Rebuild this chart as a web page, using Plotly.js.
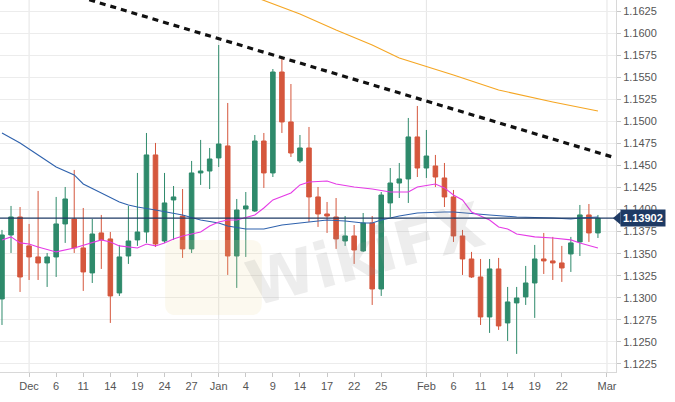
<!DOCTYPE html>
<html>
<head>
<meta charset="utf-8">
<script src="https://cdn.plot.ly/plotly-3.0.1.min.js"></script>
<style>html,body{margin:0;padding:0;background:#fff;}#chart{width:675px;height:402px;}</style>
</head>
<body>
<div id="chart"></div>
<script>
// Trading days shown on the axis (weekends removed)
const days = ['2018-11-28','2018-11-29','2018-11-30',
 '2018-12-03','2018-12-04','2018-12-05','2018-12-06','2018-12-07','2018-12-10','2018-12-11','2018-12-12','2018-12-13','2018-12-14',
 '2018-12-17','2018-12-18','2018-12-19','2018-12-20','2018-12-21','2018-12-24','2018-12-25','2018-12-26','2018-12-27','2018-12-28','2018-12-31',
 '2019-01-01','2019-01-02','2019-01-03','2019-01-04','2019-01-07','2019-01-08','2019-01-09','2019-01-10','2019-01-11',
 '2019-01-14','2019-01-15','2019-01-16','2019-01-17','2019-01-18','2019-01-21','2019-01-22','2019-01-23','2019-01-24','2019-01-25',
 '2019-01-28','2019-01-29','2019-01-30','2019-01-31','2019-02-01','2019-02-04','2019-02-05','2019-02-06','2019-02-07','2019-02-08',
 '2019-02-11','2019-02-12','2019-02-13','2019-02-14','2019-02-15','2019-02-18','2019-02-19','2019-02-20','2019-02-21','2019-02-22',
 '2019-02-25','2019-02-26','2019-02-27','2019-02-28','2019-03-01','2019-03-04'];

// Daily candles Nov 28 - Feb 28
const candleDates = days.slice(0, 67);
const open  = [1.12987,1.13712,1.13916,1.13588,1.13463,1.13395,1.13463,1.13837,1.13893,1.13565,1.13282,1.13735,1.13667,
 1.13055,1.13474,1.13656,1.13746,1.14619,1.13644,1.14109,1.13927,1.13554,1.14415,1.14437,
 1.14585,1.14721,1.13474,1.14007,1.13984,1.14777,1.14415,1.15559,1.14993,
 1.14551,1.14698,1.14143,1.13950,1.13916,1.13644,1.13701,1.13531,1.13848,1.13100,
 1.14075,1.14301,1.14347,1.14823,1.14471,1.14494,1.14358,1.14143,1.13701,1.13440,
 1.13236,1.12783,1.13327,1.12715,1.12942,1.13010,1.13168,1.13440,1.13418,1.13395,
 1.13497,1.13633,1.13939,1.13735];
const high  = [1.13769,1.14041,1.14029,1.13837,1.14211,1.13508,1.14143,1.14256,1.14449,1.14018,1.13893,1.13939,1.13746,
 1.13599,1.14041,1.14415,1.14868,1.14755,1.14415,1.14267,1.14233,1.14551,1.14789,1.14698,
 1.15865,1.15208,1.14120,1.14199,1.14845,1.14868,1.15593,1.15729,1.15423,
 1.14845,1.14936,1.14256,1.14086,1.14131,1.13927,1.13825,1.13961,1.13927,1.14199,
 1.14471,1.14528,1.15038,1.15174,1.14902,1.14619,1.14528,1.14222,1.13769,1.13520,
 1.13440,1.13440,1.13452,1.13123,1.13123,1.13361,1.13599,1.13735,1.13690,1.13588,
 1.13690,1.14052,1.14063,1.13939];
const low   = [1.12692,1.13508,1.13066,1.13202,1.13202,1.13123,1.13236,1.13622,1.13508,1.13078,1.13168,1.13327,1.12715,
 1.13021,1.13384,1.13588,1.13622,1.13576,1.13622,1.13656,1.13452,1.13508,1.14279,1.14233,
 1.14483,1.13259,1.13112,1.13463,1.13973,1.14245,1.14369,1.14868,1.14596,
 1.14528,1.13859,1.13803,1.13735,1.13554,1.13588,1.13384,1.13520,1.12919,1.13021,
 1.13916,1.14131,1.14075,1.14369,1.14358,1.14256,1.14029,1.13633,1.13259,1.13225,
 1.12692,1.12602,1.12636,1.12511,1.12364,1.12919,1.12772,1.13270,1.13202,1.13180,
 1.13293,1.13474,1.13633,1.13678];
const close = [1.13712,1.13916,1.13236,1.13463,1.13395,1.13463,1.13837,1.14120,1.13565,1.13293,1.13723,1.13656,1.13021,
 1.13463,1.13644,1.13746,1.14619,1.13610,1.14075,1.14143,1.13554,1.14415,1.14437,1.14573,
 1.14743,1.13474,1.13995,1.14041,1.14777,1.14415,1.15559,1.14993,1.14641,
 1.14698,1.14143,1.13950,1.13927,1.13667,1.13701,1.13542,1.13848,1.13100,1.14165,
 1.14301,1.14347,1.14823,1.14471,1.14607,1.14369,1.14143,1.13701,1.13440,1.13236,
 1.12783,1.13327,1.12681,1.12953,1.12998,1.13168,1.13440,1.13418,1.13395,1.13338,
 1.13622,1.13939,1.13735,1.13902];

// Moving averages
const maPinkDates = ['2018-11-28','2018-11-29','2018-11-30','2018-12-03','2018-12-04','2018-12-06','2018-12-10','2018-12-12','2018-12-13','2018-12-14',
 '2018-12-17','2018-12-19','2018-12-20','2018-12-21','2018-12-24','2018-12-25','2018-12-26','2018-12-28','2018-12-31','2019-01-01',
 '2019-01-02','2019-01-03','2019-01-07','2019-01-08','2019-01-09','2019-01-11','2019-01-14','2019-01-15','2019-01-17','2019-01-18',
 '2019-01-22','2019-01-24','2019-01-28','2019-01-30','2019-01-31','2019-02-04','2019-02-05','2019-02-06','2019-02-07','2019-02-08',
 '2019-02-12','2019-02-13','2019-02-14','2019-02-15','2019-02-19','2019-02-21','2019-02-25','2019-02-26','2019-02-28'];
const maPinkValues = [1.13656,1.13690,1.13622,1.13610,1.13576,1.13520,1.13565,1.13622,1.13656,1.13633,
 1.13588,1.13565,1.13610,1.13588,1.13622,1.13667,1.13701,1.13746,1.13814,1.13859,
 1.13882,1.13882,1.13939,1.14018,1.14109,1.14188,1.14279,1.14313,1.14324,1.14290,
 1.14256,1.14233,1.14199,1.14199,1.14256,1.14290,1.14245,1.14165,1.14109,1.13973,
 1.13882,1.13803,1.13780,1.13723,1.13690,1.13678,1.13656,1.13622,1.13565];

const maBlueDates = ['2018-11-28','2018-11-30','2018-12-04','2018-12-06','2018-12-10','2018-12-11','2018-12-13','2018-12-17','2018-12-18','2018-12-19',
 '2018-12-21','2018-12-26','2018-12-28','2019-01-01','2019-01-02','2019-01-04','2019-01-08','2019-01-10','2019-01-14','2019-01-17',
 '2019-01-21','2019-01-23','2019-01-24','2019-01-25','2019-01-29','2019-01-31','2019-02-05','2019-02-06','2019-02-12','2019-02-15',
 '2019-02-21','2019-02-25','2019-02-26','2019-02-28'];
const maBlueValues = [1.14868,1.14755,1.14619,1.14483,1.14392,1.14290,1.14188,1.14086,1.14052,1.14029,
 1.13995,1.13939,1.13882,1.13848,1.13814,1.13780,1.13780,1.13825,1.13848,1.13882,
 1.13871,1.13848,1.13848,1.13882,1.13927,1.13961,1.13973,1.13973,1.13939,1.13916,
 1.13905,1.13893,1.13905,1.13916];

const maOrangeDates = ['2019-01-03','2019-01-07','2019-01-14','2019-01-18','2019-01-24','2019-01-29','2019-02-06','2019-02-13','2019-02-21','2019-02-28'];
const maOrangeValues = [1.16500,1.16409,1.16216,1.16035,1.15865,1.15718,1.15525,1.15355,1.15219,1.15117];

// Descending trend line
const trendDates = ['2018-12-05','2019-03-04'];
const trendValues = [1.16521,1.14584];

// X tick labels
const tickDates = ['2018-12-03','2018-12-06','2018-12-11','2018-12-14','2018-12-19','2018-12-24','2018-12-27','2019-01-01','2019-01-04','2019-01-09',
 '2019-01-14','2019-01-17','2019-01-22','2019-01-25','2019-02-01','2019-02-06','2019-02-11','2019-02-14','2019-02-19','2019-02-22','2019-03-01'];
const tickLabels = ['Dec','6','11','14','19','24','27','Jan','4','9','14','17','22','25','Feb','6','11','14','19','22','Mar'];
const monthStarts = ['2018-12-03','2019-01-01','2019-02-01','2019-03-01'];

const ix = d => days.indexOf(d);
const lastClose = close[close.length-1];

const traces = [
 {type:'scatter', mode:'lines', x:maOrangeDates.map(ix), y:maOrangeValues, line:{color:'#f5a623', width:1.1}, hoverinfo:'skip'},
 {type:'scatter', mode:'lines', x:maBlueDates.map(ix), y:maBlueValues, line:{color:'#2f62ad', width:1.1}, hoverinfo:'skip'},
 {type:'scatter', mode:'lines', x:maPinkDates.map(ix), y:maPinkValues, line:{color:'#e53be6', width:1.1}, hoverinfo:'skip'},
 {type:'candlestick', x:candleDates.map(ix), open:open, high:high, low:low, close:close,
  increasing:{line:{color:'#2e8a6b', width:1}, fillcolor:'#2e8a6b'},
  decreasing:{line:{color:'#d5573d', width:1}, fillcolor:'#d5573d'},
  whiskerwidth:0, hoverinfo:'skip'},
 {type:'scatter', mode:'lines', x:trendDates.map(ix), y:trendValues, line:{color:'#111', width:3.2, dash:'6px,5px'}, hoverinfo:'skip'}
];

// faint watermark logo (rounded square), paper coords
const wx0 = 0.268, wx1 = 0.425, wyt = 0.355, wyb = 0.153, rx = 0.018, ry = 0.03;
const logoPath = `M ${wx0+rx},${wyt} L ${wx1-rx},${wyt} Q ${wx1},${wyt} ${wx1},${wyt-ry} L ${wx1},${wyb+ry} Q ${wx1},${wyb} ${wx1-rx},${wyb} L ${wx0+rx},${wyb} Q ${wx0},${wyb} ${wx0},${wyb+ry} L ${wx0},${wyt-ry} Q ${wx0},${wyt} ${wx0+rx},${wyt} Z`;

const shapes = monthStarts.map(d => ({type:'line', layer:'below', xref:'x', yref:'paper', x0:ix(d), x1:ix(d), y0:0, y1:1, line:{color:'#e4e4e4', width:1}}));
shapes.push({type:'path', layer:'above', xref:'paper', yref:'paper', path:logoPath, fillcolor:'rgba(238,212,150,0.15)', line:{width:0}});
shapes.push({type:'line', layer:'above', xref:'paper', yref:'y', x0:0, x1:1, y0:lastClose, y1:lastClose, line:{color:'#1e3a64', width:1.2}});
shapes.push({type:'path', layer:'above', xref:'paper', yref:'y', path:`M 0.995,${lastClose} L 1.0075,${lastClose+0.00075} L 1.0075,${lastClose-0.00075} Z`, fillcolor:'#1e3a64', line:{width:0}});

const layout = {
 width:675, height:402,
 margin:{l:0, r:59, t:0, b:30},
 paper_bgcolor:'#ffffff', plot_bgcolor:'#ffffff',
 showlegend:false,
 boxgap:0.28,
 font:{family:'Liberation Sans, Arial, sans-serif', size:11, color:'#555'},
 xaxis:{range:[-0.22, 68.0], tickmode:'array', tickvals:tickDates.map(ix), ticktext:tickLabels,
  ticks:'outside', ticklen:4, tickcolor:'#c8c8c8', showgrid:false, zeroline:false,
  showline:true, linecolor:'#d8d8d8', linewidth:1, rangeslider:{visible:false}, fixedrange:true,
  tickfont:{size:11, color:'#555'}},
 yaxis:{side:'right', range:[1.12159, 1.16375], tickmode:'linear', tick0:1.1225, dtick:0.0025, tickformat:'.4f',
  ticks:'outside', ticklen:4, tickcolor:'#c8c8c8', showgrid:true, gridcolor:'#ececec', zeroline:false,
  showline:true, linecolor:'#d8d8d8', linewidth:1, fixedrange:true, tickfont:{size:11, color:'#555'}},
 shapes:shapes,
 annotations:[
  {xref:'x', yref:'y', x:40.2, y:1.1349, text:'<b>WikiFX</b>', showarrow:false, textangle:-15,
   font:{family:'DejaVu Sans, sans-serif', size:62, color:'rgba(140,140,140,0.16)'}},
  {xref:'paper', yref:'y', x:1, xanchor:'left', xshift:4, y:lastClose, yanchor:'middle', text:'<b>'+lastClose.toFixed(5)+'</b>',
   showarrow:false, bgcolor:'#1e3a64', borderpad:2, font:{family:'Liberation Sans, Arial, sans-serif', size:11, color:'#ffffff'}}
 ]
};

Plotly.newPlot('chart', traces, layout, {staticPlot:true, displayModeBar:false});
</script>
</body>
</html>
